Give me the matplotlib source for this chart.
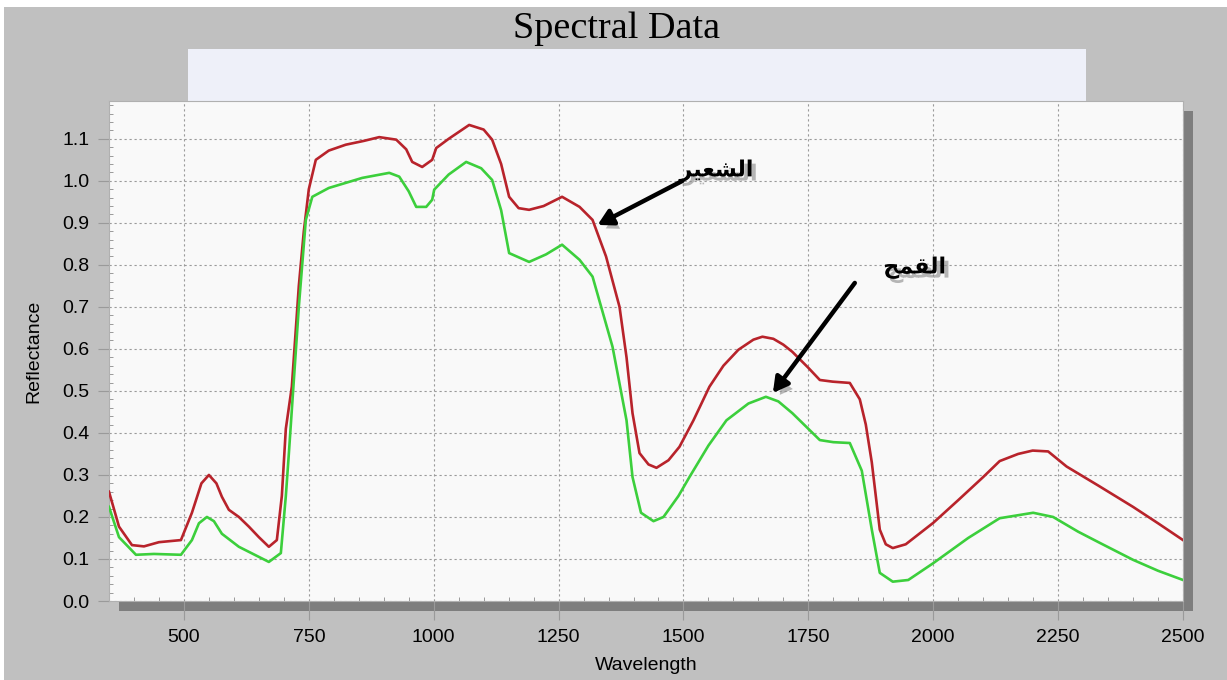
import matplotlib
matplotlib.use("Agg")
import matplotlib.pyplot as plt
import matplotlib.patheffects as pe
from matplotlib.patches import Rectangle
from matplotlib.ticker import MultipleLocator

# barley (red) spectrum
wl_barley = [350, 370, 396, 420, 450, 494, 516, 535, 550, 565, 576, 590, 610, 630, 650, 670, 686,
             696, 704, 716, 730, 740, 750, 764, 790, 824, 860, 891, 925, 945, 957, 977, 997, 1005,
             1030, 1071, 1100, 1117, 1135, 1151, 1170, 1191, 1220, 1257, 1292, 1318, 1345, 1372,
             1386, 1398, 1412, 1430, 1446, 1470, 1492, 1520, 1552, 1580, 1610, 1640, 1658, 1680,
             1700, 1718, 1750, 1773, 1799, 1833, 1853, 1865, 1877, 1893, 1905, 1919, 1945, 2000,
             2050, 2100, 2133, 2170, 2199, 2230, 2267, 2330, 2400, 2450, 2500]
refl_barley = [0.26, 0.177, 0.133, 0.13, 0.14, 0.145, 0.21, 0.28, 0.30, 0.28, 0.248, 0.217, 0.20,
               0.177, 0.152, 0.129, 0.145, 0.25, 0.41, 0.51, 0.75, 0.88, 0.98, 1.05, 1.072, 1.086,
               1.095, 1.104, 1.098, 1.075, 1.045, 1.033, 1.05, 1.078, 1.10, 1.133, 1.122, 1.098,
               1.04, 0.962, 0.935, 0.931, 0.94, 0.962, 0.938, 0.907, 0.82, 0.70, 0.58, 0.447, 0.352,
               0.325, 0.317, 0.335, 0.367, 0.43, 0.51, 0.56, 0.598, 0.622, 0.629, 0.624, 0.61,
               0.593, 0.555, 0.526, 0.522, 0.519, 0.48, 0.42, 0.33, 0.17, 0.135, 0.126, 0.135,
               0.186, 0.24, 0.295, 0.333, 0.35, 0.358, 0.356, 0.32, 0.275, 0.224, 0.185, 0.145]

# wheat (green) spectrum
wl_wheat = [350, 370, 404, 440, 494, 516, 530, 546, 560, 576, 610, 650, 670, 694, 704, 710, 730,
            744, 757, 790, 857, 911, 931, 950, 965, 985, 997, 1001, 1030, 1065, 1095, 1117, 1135,
            1151, 1191, 1225, 1257, 1292, 1318, 1358, 1386, 1398, 1415, 1440, 1460, 1490, 1512,
            1550, 1586, 1630, 1665, 1690, 1718, 1773, 1800, 1833, 1857, 1877, 1893, 1919, 1950,
            2000, 2070, 2133, 2200, 2240, 2290, 2334, 2400, 2450, 2500]
refl_wheat = [0.224, 0.152, 0.11, 0.112, 0.11, 0.145, 0.185, 0.20, 0.19, 0.16, 0.129, 0.105, 0.093,
              0.114, 0.25, 0.35, 0.70, 0.907, 0.962, 0.983, 1.007, 1.019, 1.01, 0.975, 0.938, 0.938,
              0.955, 0.979, 1.015, 1.045, 1.03, 1.002, 0.93, 0.828, 0.807, 0.825, 0.848, 0.812,
              0.772, 0.605, 0.43, 0.295, 0.21, 0.19, 0.2, 0.25, 0.295, 0.37, 0.43, 0.47, 0.486,
              0.475, 0.447, 0.383, 0.378, 0.376, 0.31, 0.17, 0.067, 0.046, 0.05, 0.09, 0.15,
              0.197, 0.21, 0.2, 0.165, 0.138, 0.098, 0.072, 0.05]

x_ticks = [500, 750, 1000, 1250, 1500, 1750, 2000, 2250, 2500]
y_ticks = [0.0, 0.1, 0.2, 0.3, 0.4, 0.5, 0.6, 0.7, 0.8, 0.9, 1.0, 1.1]

label_barley = "\ufeae\ufef4\ufecc\ufeb8\ufedf\ufe8d"  # الشعير
label_wheat = "\ufea2\ufee4\ufed8\ufedf\ufe8d"  # القمح

fig = plt.figure(figsize=(12.27, 6.8), dpi=100)
fig.patch.set_facecolor("white")
W, H = 1227.0, 680.0

# grey panel + shadow + blue strip, in pixel units of the figure
fig.patches.append(Rectangle((4 / W, 0), 1 - 4 / W, 1 - 7 / H, transform=fig.transFigure,
                             facecolor="#c0c0c0", edgecolor="none", zorder=-3))
fig.patches.append(Rectangle((119 / W, 1 - 611 / H), 1074 / W, 500 / H, transform=fig.transFigure,
                             facecolor="#7e7e7e", edgecolor="none", zorder=-2))
fig.patches.append(Rectangle((188 / W, 1 - 101 / H), 898 / W, 52 / H, transform=fig.transFigure,
                             facecolor="#eef0f9", edgecolor="none", zorder=-2))

ax = fig.add_axes([109 / W, 1 - 601 / H, 1074 / W, 500 / H])
ax.set_zorder(2)
ax.set_facecolor("#f9f9f9")
ax.plot(wl_barley, refl_barley, color="#b8232b", lw=1.9, zorder=3)
ax.plot(wl_wheat, refl_wheat, color="#3ccf3c", lw=1.9, zorder=3)

ax.set_xlim(350, 2500)
ax.set_ylim(0, 1.19)
ax.set_xticks(x_ticks)
ax.set_yticks(y_ticks)
ax.set_yticklabels(["%.1f" % v for v in y_ticks])
ax.xaxis.set_minor_locator(MultipleLocator(50))
ax.yaxis.set_minor_locator(MultipleLocator(0.02))
ax.grid(True, which="major", color="#9a9a9a", linestyle=(0, (2, 2.5)), linewidth=0.8)
ax.tick_params(which="major", direction="out", length=14, width=0.8, color="#9a9a9a",
               labelsize=14, pad=6)
ax.tick_params(axis="y", which="major", length=8, pad=6)
ax.tick_params(which="minor", direction="in", length=3, width=0.7, color="#9a9a9a")
for lab in ax.get_xticklabels() + ax.get_yticklabels():
    lab.set_fontfamily("Liberation Sans")
for s in ax.spines.values():
    s.set_color("#b0b0b0")
    s.set_linewidth(0.8)

ax.set_xlabel("Wavelength", fontsize=14, family="Liberation Sans", labelpad=8)
ax.set_ylabel("Reflectance", fontsize=14, family="Liberation Sans", labelpad=14)

fig.text(617 / W, 1 - 29 / H, "Spectral Data", ha="center", va="center",
         fontsize=27.5, family="Liberation Serif")

shadow = [pe.SimplePatchShadow(offset=(3, -4), shadow_rgbFace="#888888", alpha=0.6), pe.Normal()]
arrow_kw = dict(arrowstyle="-|>,head_length=0.9,head_width=0.5", color="black", lw=3.2,
                shrinkA=0, shrinkB=0)
a1 = ax.annotate("", xy=(1328, 0.895), xytext=(1498, 1.0), arrowprops=arrow_kw, zorder=5)
a1.arrow_patch.set_path_effects(shadow)
a2 = ax.annotate("", xy=(1679, 0.495), xytext=(1843, 0.757), arrowprops=arrow_kw, zorder=5)
a2.arrow_patch.set_path_effects(shadow)

txt_shadow = [pe.SimplePatchShadow(offset=(3, -3), shadow_rgbFace="#888888", alpha=0.6), pe.Normal()]
ax.text(1566, 1.024, label_barley, ha="center", va="center", fontsize=16, fontweight="bold",
        family="DejaVu Sans", path_effects=txt_shadow, zorder=5)
ax.text(1963, 0.793, label_wheat, ha="center", va="center", fontsize=16, fontweight="bold",
        family="DejaVu Sans", path_effects=txt_shadow, zorder=5)

fig.savefig("out.png", dpi=100, facecolor=fig.get_facecolor())
